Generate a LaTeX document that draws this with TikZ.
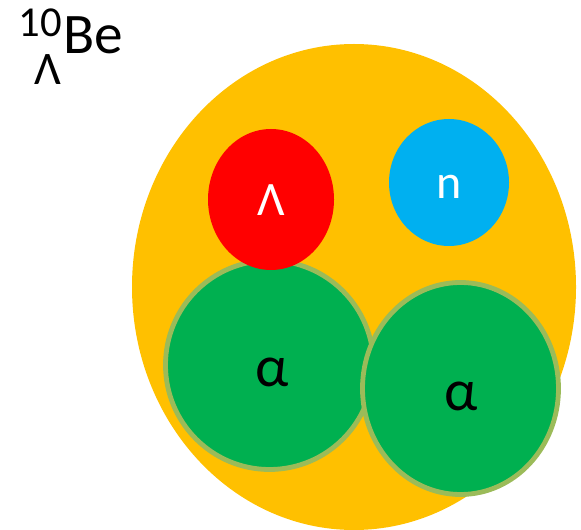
\documentclass[tikz,border=0pt]{standalone}
\usepackage{fontspec}
\setmainfont{Carlito}
\usepackage{tikz}
\usepackage{color}

\begin{document}
\begin{tikzpicture}[x=0.75pt,y=0.75pt,yscale=-1,xscale=1]
\useasboundingbox (0,0) rectangle (581,530);

%Shape: Ellipse [nucleus]
\draw  [draw opacity=0][fill={rgb, 255:red, 255; green, 192; blue, 0 }  ,fill opacity=1 ] (354,287) ellipse [x radius=222, y radius=243];
%Shape: Circle [alpha 1]
\draw  [color={rgb, 255:red, 155; green, 187; blue, 89 }  ,draw opacity=1 ][fill={rgb, 255:red, 0; green, 176; blue, 80 }  ,fill opacity=1 ][line width=3.6pt] (269.5,365) ellipse [x radius=104, y radius=104.5];
%Shape: Circle [alpha 2]
\draw  [color={rgb, 255:red, 155; green, 187; blue, 89 }  ,draw opacity=1 ][fill={rgb, 255:red, 0; green, 176; blue, 80 }  ,fill opacity=1 ][line width=3.6pt] (460.5,388.5) ellipse [x radius=98, y radius=106];
%Shape: Ellipse [lambda]
\draw  [draw opacity=0][fill={rgb, 255:red, 255; green, 0; blue, 0 }  ,fill opacity=1 ] (271,199.5) ellipse [x radius=63, y radius=70.5];
%Shape: Ellipse [neutron]
\draw  [draw opacity=0][fill={rgb, 255:red, 0; green, 176; blue, 240 }  ,fill opacity=1 ] (449,182.5) ellipse [x radius=60, y radius=63.5];

% Text Node
\draw (271,216) node (lam) [anchor=base][inner sep=0pt]  [font=\fontsize{36}{40}\selectfont]  {\textcolor{white}{Λ}};
% Text Node
\draw (449,199) node (neu) [anchor=base][inner sep=0pt]  [font=\fontsize{36}{40}\selectfont]  {\textcolor{white}{n}};
% Text Node
\draw (272,387) node (alphaA) [anchor=base][inner sep=0pt]  [font=\fontsize{44}{48}\selectfont]  {α};
% Text Node
\draw (461.5,410) node (alphaB) [anchor=base][inner sep=0pt]  [font=\fontsize{44}{48}\selectfont]  {α};
% Text Node
\draw (63,54) node (be) [anchor=base west][inner sep=0pt]  [font=\fontsize{43}{47}\selectfont]  {Be};
% Text Node
\draw (62,37) node (mass) [anchor=base east][inner sep=0pt]  [font=\fontsize{32}{36}\selectfont]  {10};
% Text Node
\draw (47.5,85) node (hyp) [anchor=base][inner sep=0pt]  [font=\fontsize{35}{39}\selectfont]  {Λ};

\end{tikzpicture}
\end{document}
